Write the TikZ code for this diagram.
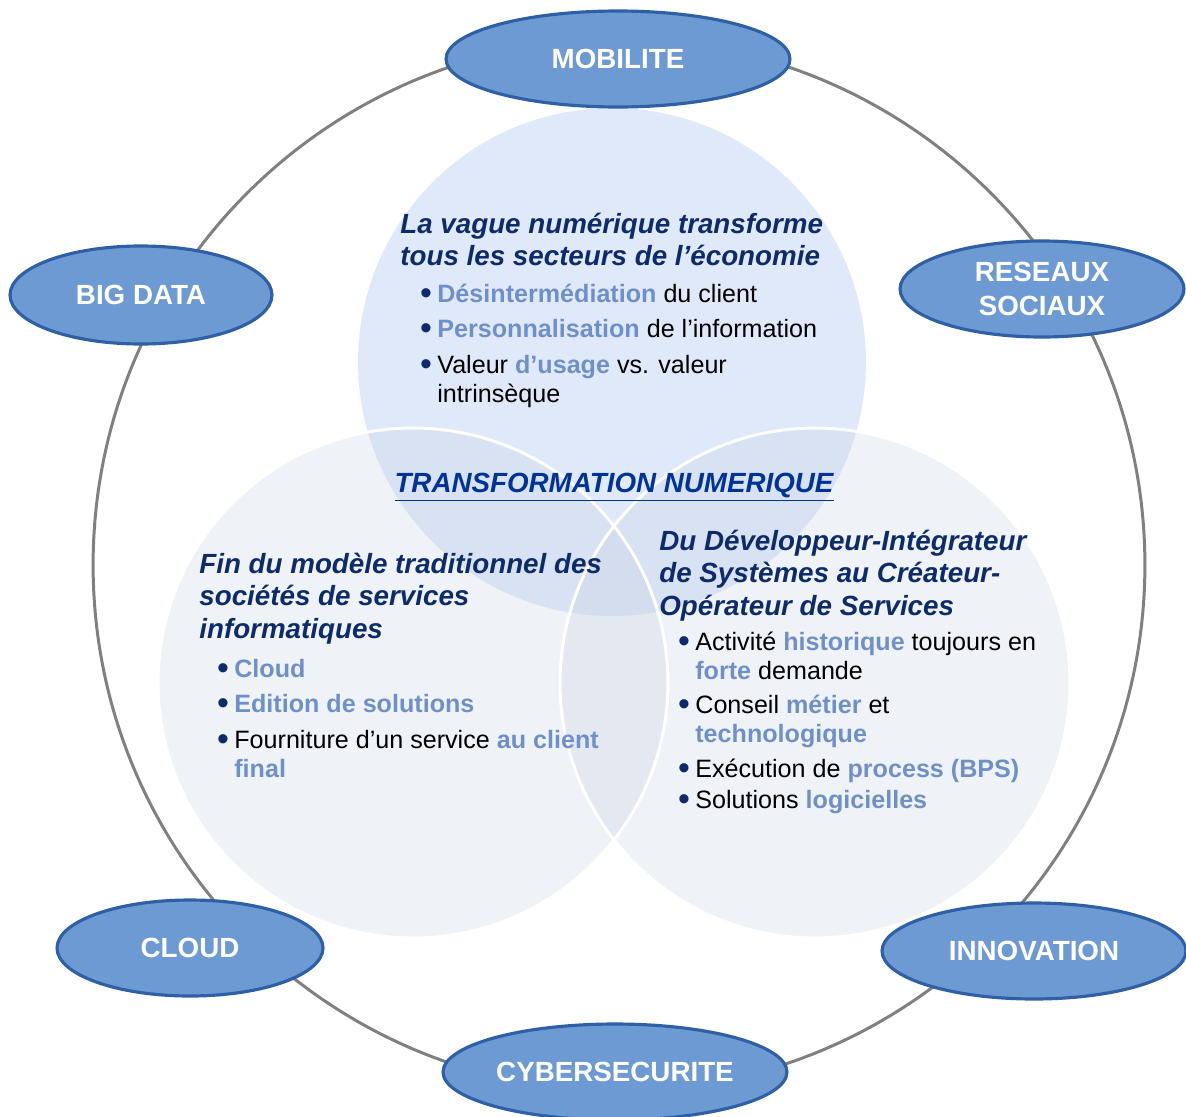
\documentclass[tikz,border=0pt]{standalone}
\usepackage{fontspec}
\usepackage{graphicx}
\setmainfont{Liberation Sans}
\usetikzlibrary{shapes.geometric}
\definecolor{navy}{HTML}{0D2B6B}
\definecolor{titleblue}{HTML}{003399}
\definecolor{keyblue}{HTML}{6F8FCB}
\definecolor{ovalfill}{HTML}{6D9AD2}
\definecolor{ovaledge}{HTML}{2F60A6}
\definecolor{topfill}{HTML}{E0E9FA}
\definecolor{sidefill}{HTML}{C9D3E3}
\newcommand{\kw}[1]{\textbf{\textcolor{keyblue}{#1}}}
\newcommand{\bul}{\llap{\textcolor{navy}{\raisebox{-0.11em}{\scalebox{1.35}{\textbullet}}}\hspace{3pt}}}
\newcommand{\twoline}[2]{\vtop{\hbox{#1}\hbox{#2}}}
\newcommand{\threeline}[3]{\vtop{\hbox{#1}\hbox{#2}\hbox{#3}}}

\begin{document}
\begin{tikzpicture}[x=0.02cm, y=-0.02cm,
  oval/.style={ellipse, draw=ovaledge, line width=1.8pt, fill=ovalfill, text=white,
    font=\fontsize{15.8}{19.3}\selectfont\bfseries, align=center, inner sep=0pt,
    minimum height=1.92cm},
  head/.style={anchor=base west, text=navy, inner sep=0pt,
    font=\fontsize{15.8}{18.6}\selectfont\bfseries\itshape},
  item/.style={anchor=base west, inner sep=0pt,
    font=\fontsize{14.3}{17}\selectfont}]

  \path[use as bounding box, clip] (0,0) rectangle (1186,1116);

  % Ring and circles
  \draw[gray, line width=1.7pt] (619,565) circle[radius=10.52cm];
  \fill[topfill] (612,362) circle[radius=5.08cm];
  \fill[sidefill, fill opacity=0.3] (413,683) circle[radius=5.1cm];
  \fill[sidefill, fill opacity=0.3] (815,683) circle[radius=5.1cm];
  \draw[white, line width=1.7pt] (413,683) circle[radius=5.1cm];
  \draw[white, line width=1.7pt] (815,683) circle[radius=5.1cm];

  % Ovals
  \node[oval, minimum width=6.88cm] (mob) at (618,59) {MOBILITE};
  \node[oval, minimum width=5.24cm, minimum height=1.96cm] (big) at (141,295) {BIG DATA};
  \node[oval, minimum width=5.68cm] (soc) at (1042,289) {RESEAUX\\SOCIAUX};
  \node[oval, minimum width=5.32cm] (cloud) at (190,948) {CLOUD};
  \node[oval, minimum width=6.08cm] (inno) at (1034,951) {INNOVATION};
  \node[oval, minimum width=6.88cm] (cyber) at (615,1072) {CYBERSECURITE};

  % Top circle
  \node[head] (tophead) at (400,233) {\twoline{La vague numérique transforme}{tous les secteurs de l’économie}};
  \node[item] (top1) at (437,302) {\bul\kw{Désintermédiation} du client};
  \node[item] (top2) at (437,337) {\bul\kw{Personnalisation} de l’information};
  \node[item] (top3) at (437,373) {\twoline{\bul Valeur \kw{d’usage} vs. valeur}{intrinsèque}};

  % Title
  \node[anchor=base, inner sep=0pt, text=titleblue, font=\fontsize{15.8}{19}\selectfont\bfseries\itshape]
    (title) at (614,492) {\underline{TRANSFORMATION NUMERIQUE}};

  % Left circle
  \node[head] (lefthead) at (199,573) {\threeline{Fin du modèle traditionnel des}{sociétés de services}{informatiques}};
  \node[item] (left1) at (234,677) {\bul\kw{Cloud}};
  \node[item] (left2) at (234,712) {\bul\kw{Edition de solutions}};
  \node[item] (left3) at (234,748) {\twoline{\bul Fourniture d’un service \kw{au client}}{\kw{final}}};

  % Right circle
  \node[head] (righthead) at (659,550) {\threeline{Du Développeur-Intégrateur}{de Systèmes au Créateur-}{Opérateur de Services}};
  \node[item] (right1) at (695,650) {\twoline{\bul Activité \kw{historique} toujours en}{\kw{forte} demande}};
  \node[item] (right2) at (695,713) {\twoline{\bul Conseil \kw{métier} et}{\kw{technologique}}};
  \node[item] (right3) at (695,777) {\bul Exécution de \kw{process (BPS)}};
  \node[item] (right4) at (695,808) {\bul Solutions \kw{logicielles}};

\end{tikzpicture}
\end{document}
